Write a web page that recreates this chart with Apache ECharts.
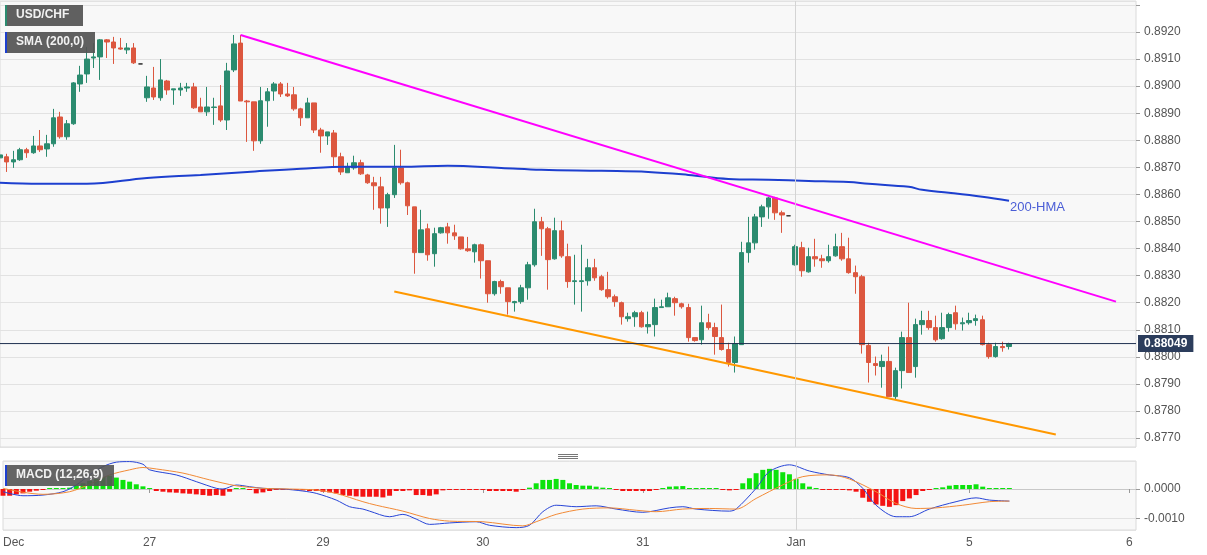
<!DOCTYPE html>
<html>
<head>
<meta charset="utf-8">
<script src="https://cdn.jsdelivr.net/npm/echarts@6/dist/echarts.min.js"></script>
<style>
html,body{margin:0;padding:0;background:#ffffff;}
#c{width:1207px;height:555px;}
</style>
</head>
<body>
<div id="c"></div>
<script>
// ---------- data ----------
const categories = Array.from({length: 171}, (_, i) => String(i)); // hourly slots
const tickIndex = [0, 22, 48, 72, 96, 119, 145, 169];
const tickText  = ['Dec', '27', '29', '30', '31', 'Jan', '5', '6'];

// [open, close, low, high]
const candles = [
[0.88735,0.88746,0.88728,0.88754],[0.88739,0.88720,0.88683,0.88750],[0.88720,0.88728,0.88698,0.88761],
[0.88728,0.88765,0.88724,0.88772],[0.88765,0.88754,0.88735,0.88772],[0.88754,0.88779,0.88750,0.88816],
[0.88779,0.88765,0.88757,0.88838],[0.88768,0.88787,0.88739,0.88820],[0.88787,0.88883,0.88776,0.88916],
[0.88886,0.88813,0.88806,0.88905],[0.88813,0.88861,0.88802,0.88875],[0.88861,0.89012,0.88857,0.89015],
[0.89008,0.89041,0.88979,0.89075],[0.89045,0.89100,0.89012,0.89145],[0.89104,0.89108,0.89067,0.89159],
[0.89108,0.89171,0.89023,0.89174],[0.89171,0.89163,0.89104,0.89174],[0.89163,0.89141,0.89082,0.89182],
[0.89141,0.89137,0.89134,0.89178],[0.89134,0.89141,0.89119,0.89159],[0.89141,0.89086,0.89082,0.89159],
[0.89082,0.89082,0.89082,0.89082],[0.88957,0.88997,0.88942,0.89038],[0.88993,0.88960,0.88949,0.89071],
[0.88957,0.89023,0.88946,0.89100],[0.89019,0.88986,0.88968,0.89023],[0.88986,0.88990,0.88931,0.88990],
[0.88986,0.88993,0.88964,0.89012],[0.88993,0.88997,0.88979,0.89012],[0.88997,0.88920,0.88916,0.89012],
[0.88923,0.88905,0.88905,0.88957],[0.88905,0.88923,0.88890,0.88997],[0.88921,0.88923,0.88857,0.88957],
[0.88927,0.88875,0.88868,0.89004],[0.88875,0.89056,0.88838,0.89086],[0.89060,0.89156,0.89052,0.89189],
[0.89159,0.88945,0.88945,0.89189],[0.88945,0.88942,0.88794,0.88949],[0.88942,0.88798,0.88761,0.88942],
[0.88798,0.88946,0.88787,0.88997],[0.88946,0.88979,0.88850,0.88993],[0.88982,0.89008,0.88946,0.89015],
[0.89008,0.88971,0.88960,0.89015],[0.88971,0.88964,0.88960,0.89012],[0.88968,0.88916,0.88909,0.88997],
[0.88916,0.88883,0.88853,0.88920],[0.88883,0.88938,0.88883,0.88957],[0.88938,0.88838,0.88827,0.88938],
[0.88838,0.88816,0.88754,0.88846],[0.88816,0.88831,0.88783,0.88831],[0.88827,0.88739,0.88702,0.88838],
[0.88739,0.88683,0.88672,0.88754],[0.88680,0.88702,0.88680,0.88717],[0.88698,0.88717,0.88691,0.88743],
[0.88717,0.88676,0.88672,0.88728],[0.88672,0.88643,0.88639,0.88676],[0.88643,0.88632,0.88543,0.88665],
[0.88628,0.88550,0.88492,0.88665],[0.88550,0.88599,0.88480,0.88606],[0.88599,0.88698,0.88587,0.88783],
[0.88698,0.88643,0.88636,0.88765],[0.88643,0.88558,0.88524,0.88647],[0.88554,0.88385,0.88307,0.88554],
[0.88385,0.88469,0.88385,0.88543],[0.88473,0.88377,0.88355,0.88492],[0.88381,0.88455,0.88333,0.88477],
[0.88458,0.88477,0.88455,0.88480],[0.88480,0.88458,0.88418,0.88495],[0.88458,0.88447,0.88432,0.88488],
[0.88443,0.88399,0.88396,0.88443],[0.88399,0.88392,0.88388,0.88443],[0.88388,0.88414,0.88348,0.88418],
[0.88414,0.88355,0.88289,0.88418],[0.88355,0.88233,0.88200,0.88355],[0.88233,0.88278,0.88226,0.88281],
[0.88278,0.88259,0.88233,0.88285],[0.88255,0.88204,0.88156,0.88255],[0.88200,0.88204,0.88167,0.88207],
[0.88204,0.88255,0.88196,0.88266],[0.88255,0.88340,0.88211,0.88351],[0.88340,0.88499,0.88333,0.88547],
[0.88499,0.88473,0.88373,0.88517],[0.88473,0.88359,0.88248,0.88480],[0.88362,0.88466,0.88359,0.88514],
[0.88466,0.88373,0.88366,0.88503],[0.88370,0.88278,0.88255,0.88418],[0.88278,0.88281,0.88193,0.88377],
[0.88278,0.88281,0.88167,0.88414],[0.88281,0.88329,0.88263,0.88362],[0.88329,0.88292,0.88281,0.88362],
[0.88296,0.88248,0.88244,0.88303],[0.88248,0.88222,0.88215,0.88314],[0.88222,0.88204,0.88185,0.88230],
[0.88200,0.88148,0.88119,0.88204],[0.88141,0.88148,0.88130,0.88163],[0.88148,0.88163,0.88111,0.88170],
[0.88163,0.88111,0.88108,0.88170],[0.88111,0.88119,0.88086,0.88167],[0.88119,0.88182,0.88075,0.88215],
[0.88182,0.88185,0.88182,0.88211],[0.88185,0.88218,0.88185,0.88237],[0.88215,0.88200,0.88152,0.88222],
[0.88196,0.88185,0.88178,0.88200],[0.88182,0.88071,0.88056,0.88196],[0.88071,0.88060,0.88056,0.88071],
[0.88063,0.88126,0.88045,0.88189],[0.88126,0.88108,0.88100,0.88159],[0.88108,0.88075,0.88008,0.88126],
[0.88071,0.88027,0.88023,0.88193],[0.88027,0.87979,0.87964,0.88052],[0.87979,0.88049,0.87942,0.88075],
[0.88045,0.88385,0.88045,0.88425],[0.88385,0.88421,0.88348,0.88517],[0.88421,0.88517,0.88396,0.88528],
[0.88517,0.88554,0.88480,0.88562],[0.88554,0.88587,0.88510,0.88591],[0.88587,0.88532,0.88506,0.88591],
[0.88532,0.88524,0.88458,0.88540],[0.88521,0.88521,0.88521,0.88521],[0.88340,0.88407,0.88337,0.88414],
[0.88403,0.88318,0.88296,0.88425],[0.88314,0.88370,0.88311,0.88403],[0.88370,0.88362,0.88333,0.88436],
[0.88362,0.88355,0.88329,0.88377],[0.88355,0.88370,0.88348,0.88414],[0.88373,0.88407,0.88370,0.88455],
[0.88407,0.88362,0.88355,0.88458],[0.88362,0.88311,0.88307,0.88440],[0.88311,0.88296,0.88233,0.88337],
[0.88296,0.88045,0.88012,0.88303],[0.88042,0.87979,0.87905,0.88052],[0.87975,0.87968,0.87931,0.88001],
[0.87964,0.87983,0.87886,0.88008],[0.87983,0.87853,0.87853,0.88038],[0.87853,0.87949,0.87842,0.87960],
[0.87949,0.88071,0.87883,0.88093],[0.88071,0.87942,0.87942,0.88200],[0.87964,0.88119,0.87923,0.88141],
[0.88119,0.88134,0.88082,0.88170],[0.88134,0.88108,0.88100,0.88170],[0.88108,0.88063,0.88056,0.88152],
[0.88067,0.88108,0.88063,0.88163],[0.88108,0.88156,0.88093,0.88163],[0.88163,0.88122,0.88100,0.88189],
[0.88122,0.88126,0.88097,0.88145],[0.88126,0.88134,0.88119,0.88163],[0.88134,0.88141,0.88115,0.88156],
[0.88137,0.88045,0.88042,0.88152],[0.88045,0.88001,0.87993,0.88052],[0.88001,0.88038,0.87997,0.88052],
[0.88038,0.88034,0.88019,0.88056],[0.88038,0.88049,0.88027,0.88052]
];
const neutralIdx = [21, 118];
const lastPrice = 0.88049;
const priceLine = [[0, lastPrice], [170, lastPrice]];

// 200-hour SMA, [slot, value]
const sma200 = [
[0,0.88643],[6,0.88639],[13,0.88639],[22,0.88661],[30,0.88672],[37,0.88683],[45,0.88695],
[52,0.88702],[60,0.88702],[67,0.88706],[75,0.88698],[81,0.88691],[90,0.88687],[97,0.88683],
[103,0.88672],[109,0.88657],[115,0.88654],[121,0.88650],[127,0.88646],[130,0.88639],
[136,0.88628],[138,0.88617],[142,0.88606],[147,0.88591],[151,0.88577]
];
const resistanceLine = [[36,0.89189],[167,0.88204]];
const supportLine    = [[59,0.88241],[158,0.87713]];

// MACD histogram per slot
const macdHist = [
-0.000228,-0.000228,-0.000182,-0.000148,-0.000091,-0.000057,-0.000023,0.00001,0.00001,0.00002,
0.000046,0.000114,0.000194,0.000274,0.000342,0.00041,0.000445,0.000388,0.000308,0.00025,
0.00016,0.000091,0.00001,-0.000068,-0.000091,-0.000114,-0.000125,-0.000148,-0.00016,-0.000182,
-0.000205,-0.000228,-0.000205,-0.000228,-0.000091,0.00001,0.00001,-0.00002,-0.000148,-0.000114,
-0.000068,-0.00002,-0.00002,-0.00002,-0.00003,-0.000046,-0.000068,-0.000068,-0.000091,-0.000114,
-0.000148,-0.000205,-0.000228,-0.00025,-0.000262,-0.000262,-0.000262,-0.000285,-0.000228,-0.000068,
-0.000068,-0.000046,-0.000205,-0.000205,-0.000228,-0.000182,-0.000046,-0.00002,-0.00002,-0.00002,
-0.00002,-0.00001,-0.00001,-0.000068,-0.000068,-0.000068,-0.000068,-0.000091,-0.000023,0.000046,
0.000194,0.000308,0.000308,0.000342,0.000308,0.000194,0.000137,0.000114,0.000114,0.00008,
0.000046,0.00001,-0.00001,-0.000068,-0.000068,-0.000068,-0.000068,-0.000068,-0.00002,0.00001,
0.00008,0.000091,0.0001,0.00002,0.00001,0.00001,0.00001,0.00001,-0.000023,-0.000046,
-0.00002,0.000194,0.000365,0.000536,0.00065,0.000684,0.00065,0.00057,0.0005,0.000342,
0.000194,0.00008,0.00001,-0.00002,-0.00002,-0.00002,-0.00003,-0.000046,-0.000091,-0.000296,
-0.000433,-0.000524,-0.00057,-0.000604,-0.000547,-0.00041,-0.000319,-0.000205,-0.000068,-0.00001,
0.00001,0.000057,0.000114,0.000137,0.000137,0.000137,0.00016,0.00008,0.00002,0.00001,
0.00001,0.00001
];
// MACD line and signal line, [slot, value]
const macdLine = [
[0,-0.000092],[3,-0.000228],[6,-0.000205],[9,-0.000092],[11,0.000136],[13,0.000477],[15,0.00076],
[17,0.00091],[19,0.00093],[21,0.00084],[22,0.00065],[26,0.000477],[29,0.00025],[32,0.000024],
[33,0],[35,0.000136],[37,0.000078],[39,0.000024],[42,0],[45,-0.000068],[47,-0.000147],[50,-0.000375],
[52,-0.0006],[54,-0.00068],[55,-0.00075],[58,-0.00094],[60,-0.00086],[62,-0.00102],[64,-0.0012],
[67,-0.00115],[71,-0.00111],[73,-0.00123],[77,-0.00131],[79,-0.00123],[81,-0.00077],[83,-0.00055],
[86,-0.0006],[89,-0.00057],[92,-0.00068],[96,-0.00079],[100,-0.00064],[102,-0.0006],[104,-0.00068],
[109,-0.00075],[110,-0.00068],[113,0.000024],[115,0.00059],[118,0.00082],[121,0.00061],[124,0.000477],
[127,0.000385],[129,0.000024],[131,-0.00055],[134,-0.00094],[136,-0.00094],[139,-0.00068],
[143,-0.00043],[146,-0.0003],[148,-0.000375],[151,-0.00041]
];
const signalLine = [
[0,0.000024],[3,-0.00011],[6,-0.00018],[10,-0.000092],[13,0.00016],[16,0.000477],[19,0.00065],
[21,0.00073],[23,0.00068],[27,0.00054],[31,0.00031],[35,0.00011],[39,0.000024],[43,0],[47,-0.000034],
[50,-0.00015],[54,-0.00043],[56,-0.00055],[60,-0.00075],[64,-0.001],[67,-0.00109],[72,-0.00111],
[78,-0.00125],[80,-0.00111],[83,-0.00086],[87,-0.00068],[91,-0.00064],[95,-0.00072],[98,-0.00077],
[102,-0.00068],[106,-0.00066],[110,-0.00068],[113,-0.00032],[117,0.00014],[120,0.00042],[124,0.00048],
[127,0.00034],[131,-0.000092],[134,-0.00049],[137,-0.00066],[140,-0.00064],[144,-0.00055],
[148,-0.00043],[151,-0.00041]
];

// ---------- chart ----------
const FONT = '"Liberation Sans", Arial, Helvetica, sans-serif';
const UP = '#2b8b6f', DOWN = '#dc573f', NEUTRAL = '#2a2a2a';
const isTick = (i) => tickIndex.indexOf(i) >= 0;

const candleData = candles.map((c, i) => neutralIdx.indexOf(i) >= 0
  ? {value: c, itemStyle: {color: NEUTRAL, color0: NEUTRAL, borderColor: NEUTRAL, borderColor0: NEUTRAL, borderColorDoji: NEUTRAL}}
  : c);

const chart = echarts.init(document.getElementById('c'), null, {renderer: 'canvas'});
const option = {
  animation: false,
  backgroundColor: '#ffffff',
  textStyle: {fontFamily: FONT},
  grid: [
    {left: 0, right: 71, top: 1, bottom: 108, show: true, backgroundColor: '#f8f8f8', borderColor: '#dadada', borderWidth: 1},
    {left: 0, right: 71, top: 461, bottom: 25, show: true, backgroundColor: '#f8f8f8', borderColor: '#dadada', borderWidth: 1}
  ],
  xAxis: [
    {type: 'category', gridIndex: 0, data: categories, boundaryGap: false, show: false},
    {type: 'category', gridIndex: 1, data: categories, boundaryGap: false,
      axisLine: {show: true, lineStyle: {color: '#c8c8c8'}},
      axisTick: {show: true, interval: isTick, length: 4, lineStyle: {color: '#999'}},
      axisLabel: {show: true, interval: isTick, color: '#555', fontSize: 12, margin: 7, fontFamily: FONT,
        alignMinLabel: 'left',
        formatter: (v) => { const j = tickIndex.indexOf(Number(v)); return j >= 0 ? tickText[j] : ''; }},
      splitLine: {show: false}}
  ],
  yAxis: [
    {type: 'value', gridIndex: 0, position: 'right', min: 0.876669, max: 0.893145, splitNumber: 16,
      minInterval: 0.001, maxInterval: 0.001, scale: true,
      axisLine: {show: false}, axisTick: {show: true, length: 4, lineStyle: {color: '#999'}},
      axisLabel: {color: '#555', fontSize: 12, margin: 8, fontFamily: FONT, showMinLabel: false, showMaxLabel: false,
        formatter: (v) => v > 0.8925 ? '' : v.toFixed(4)},
      splitLine: {show: true, lineStyle: {color: '#e2e2e2', width: 1}}},
    {type: 'value', gridIndex: 1, position: 'right', min: -0.00139, max: 0.00095, splitNumber: 2,
      minInterval: 0.001, maxInterval: 0.001, scale: true,
      axisLine: {show: false}, axisTick: {show: true, length: 4, lineStyle: {color: '#999'}},
      axisLabel: {color: '#555', fontSize: 12, margin: 8, fontFamily: FONT, showMinLabel: false, showMaxLabel: false,
        formatter: (v) => v.toFixed(4)},
      splitLine: {show: true, lineStyle: {color: '#e2e2e2', width: 1}}}
  ],
  series: [
    {type: 'candlestick', xAxisIndex: 0, yAxisIndex: 0, data: candleData, barWidth: 5,
      itemStyle: {color: UP, color0: DOWN, borderColor: UP, borderColor0: DOWN, borderWidth: 1},
      markLine: {symbol: 'none', silent: true, animation: false,
        data: [
          {xAxis: '119', lineStyle: {color: '#d4d4d4', width: 1, type: 'solid'}, label: {show: false}}
        ]}},
    {type: 'line', name: 'SMA', xAxisIndex: 0, yAxisIndex: 0, data: sma200, smooth: 0.4, showSymbol: false,
      lineStyle: {color: '#1d3fcf', width: 2}, z: 3},
    {type: 'line', xAxisIndex: 0, yAxisIndex: 0, data: resistanceLine, showSymbol: false,
      lineStyle: {color: '#ff00ff', width: 2}, z: 4},
    {type: 'line', xAxisIndex: 0, yAxisIndex: 0, data: supportLine, showSymbol: false,
      lineStyle: {color: '#ff9800', width: 2}, z: 4},
    {type: 'line', xAxisIndex: 0, yAxisIndex: 0, data: priceLine, showSymbol: false, silent: true,
      lineStyle: {color: '#1e2f4f', width: 1}, z: 5,
      endLabel: {show: true, distance: 2, formatter: () => lastPrice.toFixed(5),
        color: '#ffffff', fontWeight: 'bold', fontSize: 12, fontFamily: FONT,
        backgroundColor: '#2c3d5c', padding: [3, 6, 2, 6]}},
    {type: 'bar', xAxisIndex: 1, yAxisIndex: 1, data: macdHist, barWidth: 5, barMinHeight: 1,
      itemStyle: {color: (p) => p.value >= 0 ? '#0ce30c' : '#f41212'},
      markLine: {symbol: 'none', silent: true, animation: false,
        data: [{xAxis: '119', lineStyle: {color: '#d4d4d4', width: 1, type: 'solid'}, label: {show: false}}]}},
    {type: 'line', xAxisIndex: 1, yAxisIndex: 1, data: macdLine, smooth: 0.3, showSymbol: false,
      lineStyle: {color: '#2744d6', width: 1}, z: 4},
    {type: 'line', xAxisIndex: 1, yAxisIndex: 1, data: signalLine, smooth: 0.3, showSymbol: false,
      lineStyle: {color: '#f28a36', width: 1}, z: 4}
  ],
  graphic: [
    {type: 'rect', left: 5, top: 5, shape: {width: 78, height: 21}, style: {fill: 'rgba(84,84,84,0.93)'}, z: 100},
    {type: 'rect', left: 5, top: 5, shape: {width: 2, height: 21}, style: {fill: '#2b8b6f'}, z: 101},
    {type: 'text', left: 16, top: 9, style: {text: 'USD/CHF', fill: '#f2f2f2', font: 'bold 12px ' + FONT}, z: 101},
    {type: 'rect', left: 5, top: 32, shape: {width: 90, height: 21}, style: {fill: 'rgba(84,84,84,0.93)'}, z: 100},
    {type: 'rect', left: 5, top: 32, shape: {width: 2, height: 21}, style: {fill: '#1d3fcf'}, z: 101},
    {type: 'text', left: 16, top: 36, style: {text: 'SMA (200,0)', fill: '#f2f2f2', font: 'bold 12px ' + FONT}, z: 101},
    {type: 'rect', left: 5, top: 465, shape: {width: 109, height: 21}, style: {fill: 'rgba(84,84,84,0.9)'}, z: 100},
    {type: 'rect', left: 5, top: 465, shape: {width: 2, height: 21}, style: {fill: '#1d3fcf'}, z: 101},
    {type: 'text', left: 16, top: 469, style: {text: 'MACD (12,26,9)', fill: '#f2f2f2', font: 'bold 12px ' + FONT}, z: 101},
    {type: 'text', left: 1010, top: 201, style: {text: '200-HMA', fill: '#4a5dd6', font: '13px ' + FONT}, z: 101},
    {type: 'line', shape: {x1: 558, y1: 454.5, x2: 578, y2: 454.5}, style: {stroke: '#777', lineWidth: 1}, z: 101},
    {type: 'line', shape: {x1: 558, y1: 456.5, x2: 578, y2: 456.5}, style: {stroke: '#777', lineWidth: 1}, z: 101},
    {type: 'line', shape: {x1: 558, y1: 458.5, x2: 578, y2: 458.5}, style: {stroke: '#777', lineWidth: 1}, z: 101}
  ]
};
chart.setOption(option);
</script>
</body>
</html>
